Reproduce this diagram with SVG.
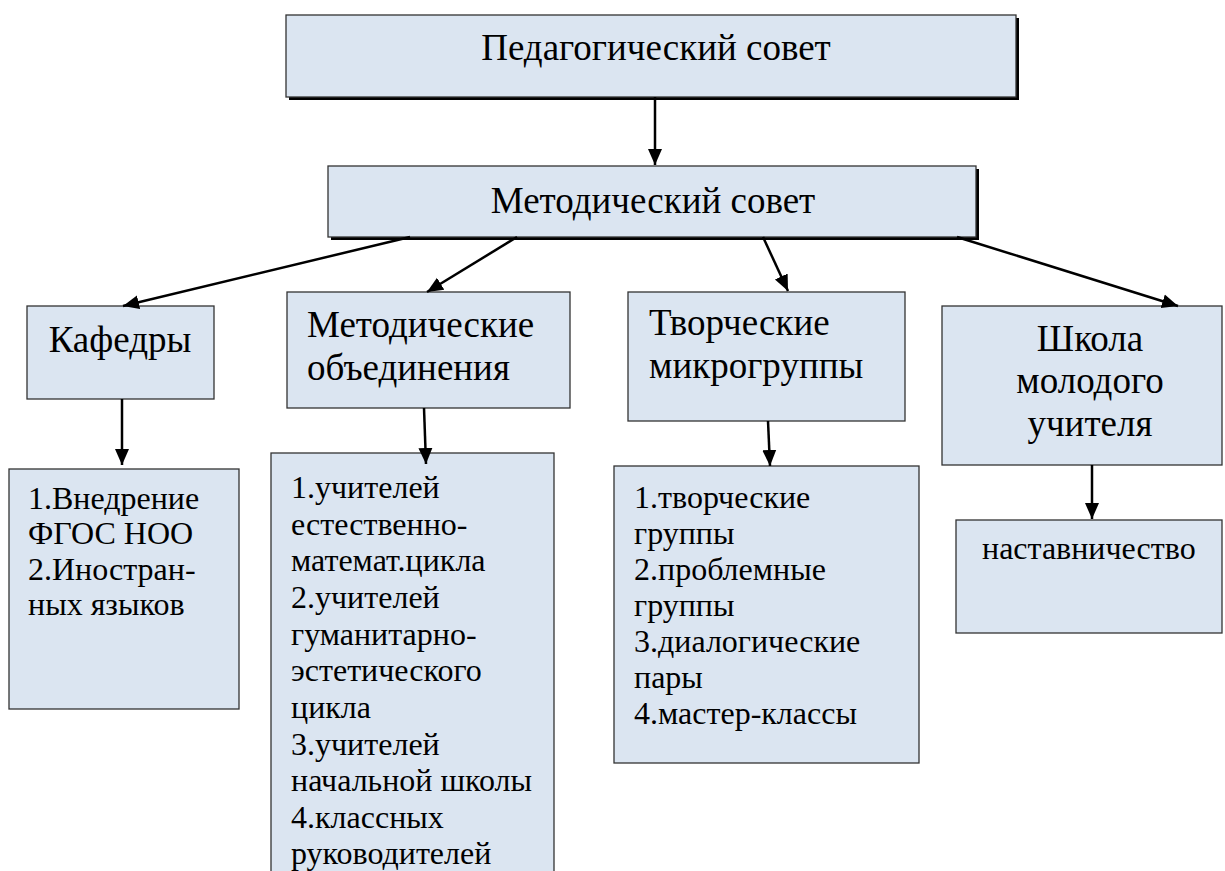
<svg xmlns="http://www.w3.org/2000/svg" width="1225" height="871" viewBox="0 0 1225 871" font-family="Liberation Serif, Times New Roman, serif">
<style>
.box{fill:#dbe5f1;stroke:#333333;stroke-width:1.3}
.shadow{fill:#000000}
.h{font-size:37px}
.t{font-size:32px}
.c{text-anchor:middle}
.conn line{stroke:#000;stroke-width:2.5;marker-end:url(#ah)}
</style>
<defs>
<marker id="ah" markerUnits="userSpaceOnUse" markerWidth="16" markerHeight="16" viewBox="0 0 16 16" refX="16" refY="8" orient="auto">
<path d="M0,1 L16,8 L0,15 Z" fill="#000"/>
</marker>
</defs>
<rect width="1225" height="871" fill="#ffffff"/>
<g id="ped-sovet">
<rect class="shadow" x="289" y="18" width="730" height="82"/>
<rect class="box" x="286" y="15" width="730" height="82"/>
<text class="h c" x="656" y="60">Педагогический совет</text>
</g>
<g id="met-sovet">
<rect class="shadow" x="331" y="169" width="648" height="71"/>
<rect class="box" x="328" y="166" width="648" height="71"/>
<text class="h c" x="653" y="213">Методический совет</text>
</g>
<g id="kafedry">
<rect class="box" x="27" y="306" width="187" height="93"/>
<text class="h c" x="120" y="352">Кафедры</text>
</g>
<g id="met-obed">
<rect class="box" x="287" y="292" width="283" height="116"/>
<text class="h" x="307" y="337">Методические</text>
<text class="h" x="307" y="380">объединения</text>
</g>
<g id="tvor">
<rect class="box" x="628" y="292" width="277" height="129"/>
<text class="h" x="649" y="335">Творческие</text>
<text class="h" x="649" y="378">микрогруппы</text>
</g>
<g id="shkola">
<rect class="box" x="942" y="306" width="280" height="159"/>
<text class="h c" x="1090" y="351">Школа</text>
<text class="h c" x="1090" y="393">молодого</text>
<text class="h c" x="1090" y="436">учителя</text>
</g>
<g id="kaf-list">
<rect class="box" x="9" y="469" width="230" height="240"/>
<text class="t" x="28" y="509">1.Внедрение</text>
<text class="t" x="28" y="544">ФГОС НОО</text>
<text class="t" x="28" y="580">2.Иностран-</text>
<text class="t" x="28" y="615">ных языков</text>
</g>
<g id="mo-list">
<rect class="box" x="271" y="453" width="283" height="430"/>
<text class="t" x="291" y="498">1.учителей</text>
<text class="t" x="291" y="535">естественно-</text>
<text class="t" x="291" y="571">математ.цикла</text>
<text class="t" x="291" y="608">2.учителей</text>
<text class="t" x="291" y="645">гуманитарно-</text>
<text class="t" x="291" y="681">эстетического</text>
<text class="t" x="291" y="718">цикла</text>
<text class="t" x="291" y="755">3.учителей</text>
<text class="t" x="291" y="791">начальной школы</text>
<text class="t" x="291" y="828">4.классных</text>
<text class="t" x="291" y="864">руководителей</text>
</g>
<g id="tvor-list">
<rect class="box" x="614" y="466" width="305" height="297"/>
<text class="t" x="634" y="508">1.творческие</text>
<text class="t" x="634" y="544">группы</text>
<text class="t" x="634" y="580">2.проблемные</text>
<text class="t" x="634" y="616">группы</text>
<text class="t" x="634" y="652">3.диалогические</text>
<text class="t" x="634" y="688">пары</text>
<text class="t" x="634" y="724">4.мастер-классы</text>
</g>
<g id="nastav">
<rect class="box" x="956" y="520" width="266" height="113"/>
<text class="t" x="982" y="559">наставничество</text>
</g>
<g class="conn" id="connectors">
<line x1="655" y1="97" x2="655" y2="165"/>
<line x1="410" y1="237" x2="123" y2="306"/>
<line x1="517" y1="237" x2="427" y2="292"/>
<line x1="763" y1="237" x2="788" y2="291"/>
<line x1="957" y1="237" x2="1178" y2="306"/>
<line x1="122" y1="399" x2="122" y2="465"/>
<line x1="424" y1="408" x2="426" y2="464"/>
<line x1="768" y1="421" x2="770" y2="466"/>
<line x1="1092" y1="465" x2="1092" y2="519"/>
</g>
</svg>
